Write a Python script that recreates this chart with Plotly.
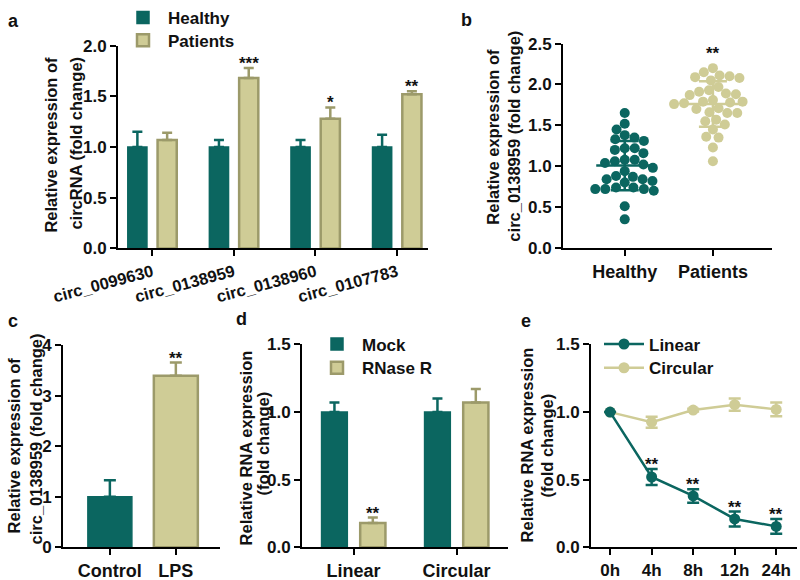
import numpy as np
import plotly.graph_objects as go

# ---------------- data ----------------
# Panel a
a_circ = ["circ_0099630", "circ_0138959", "circ_0138960", "circ_0107783"]
a_healthy = [1.0, 1.0, 1.0, 1.0]
a_healthy_err = [0.15, 0.07, 0.07, 0.12]
a_patients = [1.07, 1.68, 1.28, 1.52]
a_patients_err = [0.07, 0.10, 0.11, 0.03]
a_sig = ["", "***", "*", "**"]

# Panel b (individual samples)
b_groups = ["Healthy", "Patients"]
b_healthy = [1.65, 1.52, 1.45, 1.38, 1.35, 1.31, 1.33, 1.22, 1.20, 1.22, 1.16,
             1.08, 1.06, 1.04, 1.08, 1.02, 0.98, 0.94, 0.88, 0.87, 0.84, 0.82,
             0.80, 0.84, 0.74, 0.72, 0.70, 0.74, 0.72, 0.51, 0.35, 0.72]
b_patients = [2.20, 2.11, 2.05, 2.08, 2.09, 2.10, 2.15, 1.97, 1.93, 1.91, 1.87,
              1.88, 1.89, 1.81, 1.79, 1.77, 1.78, 1.79, 1.76, 1.71, 1.65, 1.65,
              1.70, 1.66, 1.55, 1.51, 1.45, 1.57, 1.35, 1.36, 1.23, 1.06]
b_sig = "**"

# Panel c
c_groups = ["Control", "LPS"]
c_values = [1.0, 3.4]
c_err = [0.33, 0.26]
c_sig = ["", "**"]

# Panel d
d_groups = ["Linear", "Circular"]
d_mock = [1.0, 1.0]
d_mock_err = [0.07, 0.10]
d_rnase = [0.18, 1.07]
d_rnase_err = [0.04, 0.10]
d_sig = ["**", ""]

# Panel e
e_times = ["0h", "4h", "8h", "12h", "24h"]
e_linear = [1.0, 0.52, 0.38, 0.21, 0.155]
e_linear_err = [0.0, 0.06, 0.05, 0.055, 0.055]
e_circular = [1.0, 0.925, 1.015, 1.055, 1.02]
e_circular_err = [0.0, 0.04, 0.01, 0.045, 0.05]
e_sig = ["", "**", "**", "**", "**"]

# ---------------- style ----------------
TEAL = "#0b6660"
KHAKI = "#cfcc96"
KHAKI_EDGE = "#9c9a6a"
FONT = "Liberation Sans, Arial, sans-serif"
W, H = 800, 580


def px_dom_x(x0, x1):
    return [x0 / W, x1 / W]


def px_dom_y(ybottom, ytop):
    return [1 - ybottom / H, 1 - ytop / H]


# layout geometry (pixels)
A_X, A_Y = px_dom_x(118, 428), px_dom_y(245, 40)
B_X, B_Y = px_dom_x(563, 772), px_dom_y(244.5, 38)
C_X, C_Y = px_dom_x(63, 220), px_dom_y(547, 343)
D_X, D_Y = px_dom_x(302, 508), px_dom_y(547, 342)
E_X, E_Y = px_dom_x(591, 797), px_dom_y(547, 342)

B_XRANGE = [0.3, 2.67]
B_YRANGE = [0, 2.5]

fig = go.Figure()


def up_err(err, color, width=5):
    return dict(type="data", symmetric=False, array=err, arrayminus=[0] * len(err),
                color=color, thickness=2.5, width=width)


# ---------------- panel a ----------------
bw_a = 0.235
fig.add_trace(go.Bar(x=a_circ, y=a_healthy, width=bw_a, offset=-0.30, name="Healthy",
                     marker=dict(color=TEAL, line=dict(color=TEAL, width=1.5)),
                     error_y=up_err(a_healthy_err, TEAL), xaxis="x", yaxis="y",
                     legend="legend"))
fig.add_trace(go.Bar(x=a_circ, y=a_patients, width=bw_a, offset=0.065, name="Patients",
                     marker=dict(color=KHAKI, line=dict(color=KHAKI_EDGE, width=2.5)),
                     error_y=up_err(a_patients_err, KHAKI_EDGE), xaxis="x", yaxis="y",
                     legend="legend2"))

# ---------------- panel b ----------------
def beeswarm(vals, d, ypx):
    vals = np.asarray(vals, dtype=float)
    order = np.argsort(-vals)
    placed = []
    xs = np.zeros(len(vals))
    for i in order:
        y = vals[i] * ypx
        cands = [0.0]
        for (px, py) in placed:
            dy = abs(py - y)
            if dy < d:
                dx = np.sqrt(d * d - dy * dy)
                cands += [px + dx, px - dx]
        cands.sort(key=lambda c: (abs(c), c))
        chosen = 0.0
        for c in cands:
            if all((c - px) ** 2 + (y - py) ** 2 >= d * d - 1e-6 for px, py in placed):
                chosen = c
                break
        placed.append((chosen, y))
        xs[i] = chosen
    return xs


b_xpx = (B_X[1] - B_X[0]) * W / (B_XRANGE[1] - B_XRANGE[0])
b_ypx = (B_Y[1] - B_Y[0]) * H / (B_YRANGE[1] - B_YRANGE[0])
for gi, (vals, col) in enumerate([(b_healthy, TEAL), (b_patients, KHAKI)]):
    center = gi + 1
    offs = beeswarm(vals, 10.0, b_ypx) / b_xpx
    fig.add_trace(go.Scatter(x=center + offs, y=vals, mode="markers", showlegend=False,
                             marker=dict(color=col, size=10, line=dict(width=0)),
                             xaxis="x2", yaxis="y2"))
    m = float(np.mean(vals))
    sd = float(np.std(vals, ddof=1))
    half = 28.5 / b_xpx
    fig.add_trace(go.Scatter(x=[center - half, center + half], y=[m, m], mode="lines",
                             line=dict(color=col, width=2.5), showlegend=False,
                             xaxis="x2", yaxis="y2"))
    fig.add_trace(go.Scatter(x=[center], y=[m], mode="markers", showlegend=False,
                             marker=dict(size=1, color="rgba(0,0,0,0)"),
                             error_y=dict(type="data", array=[sd], color=col,
                                          thickness=2.5, width=14),
                             xaxis="x2", yaxis="y2"))

# ---------------- panel c ----------------
for i, col, edge, lw in [(0, TEAL, TEAL, 1.5), (1, KHAKI, KHAKI_EDGE, 2.5)]:
    fig.add_trace(go.Bar(x=[c_groups[i]], y=[c_values[i]], width=0.667, offset=-0.333,
                         marker=dict(color=col, line=dict(color=edge, width=lw)),
                         error_y=up_err([c_err[i]], edge, 6), showlegend=False,
                         xaxis="x3", yaxis="y3"))

# ---------------- panel d ----------------
fig.add_trace(go.Bar(x=d_groups, y=d_mock, width=0.25, offset=-0.31, name="Mock",
                     marker=dict(color=TEAL, line=dict(color=TEAL, width=1.5)),
                     error_y=up_err(d_mock_err, TEAL), xaxis="x4", yaxis="y4",
                     legend="legend3"))
fig.add_trace(go.Bar(x=d_groups, y=d_rnase, width=0.245, offset=0.065, name="RNase R",
                     marker=dict(color=KHAKI, line=dict(color=KHAKI_EDGE, width=2.5)),
                     error_y=up_err(d_rnase_err, KHAKI_EDGE), xaxis="x4", yaxis="y4",
                     legend="legend4"))

# ---------------- panel e ----------------
fig.add_trace(go.Scatter(x=e_times, y=e_circular, mode="lines+markers", name="Circular",
                         line=dict(color=KHAKI, width=2.5),
                         marker=dict(color=KHAKI, size=11),
                         error_y=dict(type="data", array=e_circular_err, color=KHAKI,
                                      thickness=2.5, width=6),
                         xaxis="x5", yaxis="y5", legend="legend6"))
fig.add_trace(go.Scatter(x=e_times, y=e_linear, mode="lines+markers", name="Linear",
                         line=dict(color=TEAL, width=2.5),
                         marker=dict(color=TEAL, size=11),
                         error_y=dict(type="data", array=e_linear_err, color=TEAL,
                                      thickness=2.5, width=6),
                         xaxis="x5", yaxis="y5", legend="legend5"))

# ---------------- axes ----------------
def tf(size):
    return dict(size=size, family=FONT, weight="bold", color="#111")


def axis(domain, anchor, **kw):
    d = dict(domain=domain, anchor=anchor, showline=True, linecolor="black", linewidth=2,
             ticks="outside", ticklen=6, tickwidth=2, tickcolor="black",
             showgrid=False, zeroline=False, tickfont=tf(17), automargin=False,
             fixedrange=True)
    d.update(kw)
    return d


fig.update_layout(
    xaxis=axis(A_X, "y", type="category", range=[-0.42, 3.38], tickangle=-15,
               tickfont=tf(16.5)),
    yaxis=axis(A_Y, "x", range=[0, 2.0], dtick=0.5, tickformat=".1f"),
    xaxis2=axis(B_X, "y2", range=B_XRANGE, tickvals=[1, 2], ticktext=b_groups,
                tickfont=tf(18)),
    yaxis2=axis(B_Y, "x2", range=B_YRANGE, dtick=0.5, tickformat=".1f"),
    xaxis3=axis(C_X, "y3", type="category", range=[-0.71, 1.67], tickfont=tf(18)),
    yaxis3=axis(C_Y, "x3", range=[0, 4], dtick=1),
    xaxis4=axis(D_X, "y4", type="category", range=[-0.5, 1.5], tickfont=tf(18)),
    yaxis4=axis(D_Y, "x4", range=[0, 1.5], dtick=0.5, tickformat=".1f"),
    xaxis5=axis(E_X, "y5", type="category", range=[-0.46, 4.5], tickfont=tf(17)),
    yaxis5=axis(E_Y, "x5", range=[0, 1.5], dtick=0.5, tickformat=".1f"),
)


def leg(x_sym_px, y_px):
    # one legend per item, anchored so the symbol centre sits at (x_sym_px, y_px)
    return dict(font=tf(17), bgcolor="rgba(0,0,0,0)", xanchor="left", yanchor="middle",
                x=(x_sym_px - 22) / W, y=1 - y_px / H, itemwidth=40, tracegroupgap=0)


fig.update_layout(
    legend=leg(140, 12), legend2=leg(140, 35),
    legend3=leg(334, 342), legend4=leg(334, 366),
    legend5=leg(621, 342), legend6=leg(621, 366),
)

# ---------------- annotations ----------------
ann = []
star_font = tf(17)


def star(text, x, y, xref, yref):
    if text:
        ann.append(dict(text=text, x=x, y=y, xref=xref, yref=yref, showarrow=False,
                        yanchor="bottom", yshift=-7, font=star_font))


for i in range(len(a_circ)):
    star(a_sig[i], i + 0.1825, a_patients[i] + a_patients_err[i], "x", "y")
star(b_sig, 2, max(b_patients) + 0.12, "x2", "y2")
for i in range(len(c_groups)):
    star(c_sig[i], i, c_values[i] + c_err[i], "x3", "y3")
for i in range(len(d_groups)):
    star(d_sig[i], i + 0.1875, d_rnase[i] + d_rnase_err[i], "x4", "y4")
for i in range(len(e_times)):
    star(e_sig[i], i, e_linear[i] + e_linear_err[i], "x5", "y5")

title_font = tf(16.5)


def vtitle(text, xpx, ypx):
    ann.append(dict(text=text, x=xpx / W, y=1 - ypx / H, xref="paper", yref="paper",
                    showarrow=False, textangle=-90, xanchor="center", yanchor="middle",
                    font=title_font))


vtitle("Relative expression of", 51, 140)
vtitle("circRNA (fold change)", 76, 139)
vtitle("Relative expression of", 493, 132)
vtitle("circ_0138959 (fold change)", 514, 132)
vtitle("Relative expression of", 14, 444)
vtitle("circ_0138959 (fold change)", 36, 438)
vtitle("Relative RNA expression", 246, 447)
vtitle("(fold change)", 263, 442)
vtitle("Relative RNA expression", 527, 444)
vtitle("(fold change)", 547, 444)

for lab, xpx, ypx in [("a", 13, 15), ("b", 466, 14), ("c", 13, 318), ("d", 241, 316),
                      ("e", 526, 318)]:
    ann.append(dict(text=lab, x=xpx / W, y=1 - ypx / H, xref="paper", yref="paper",
                    showarrow=False, xanchor="center", yanchor="middle", font=tf(18)))

fig.update_layout(
    annotations=ann,
    width=W, height=H, margin=dict(l=0, r=0, t=0, b=0),
    paper_bgcolor="white", plot_bgcolor="white", barmode="overlay",
    font=dict(family=FONT, size=16, color="#111", weight="bold"),
)

fig.write_html("out.html", config={"displayModeBar": False},
               post_script="document.body.style.margin='0';document.body.style.overflow='hidden';")
